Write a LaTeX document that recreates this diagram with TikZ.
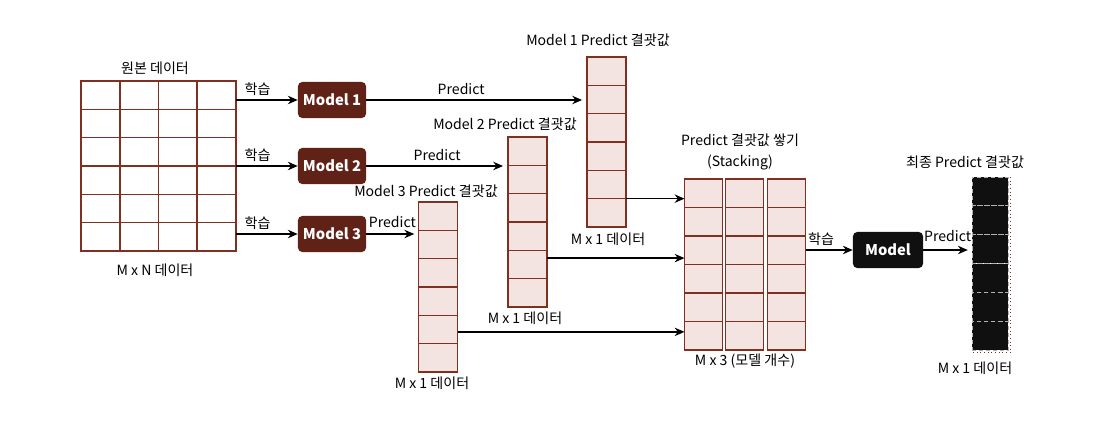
\documentclass[tikz,border=0pt]{standalone}
\usepackage{fontspec}
\setmainfont{Noto Sans CJK KR}
\usetikzlibrary{arrows.meta, positioning, calc}
\definecolor{cellbrd}{RGB}{128,48,32}
\definecolor{cellfill}{RGB}{243,228,226}
\definecolor{modelfill}{RGB}{96,34,22}
\definecolor{finalfill}{RGB}{16,16,16}
\tikzset{
  gridcell/.style={rectangle, fill=white, inner sep=0pt, outer sep=0pt,
    minimum width=0.969cm, minimum height=0.708cm},
  predcell/.style={gridcell, fill=cellfill, minimum width=0.975cm},
  stackcell/.style={gridcell, fill=cellfill, minimum width=0.95cm, minimum height=0.7125cm},
  cellline/.style={draw=cellbrd, line width=1.1pt},
  finalcell/.style={rectangle, fill=finalfill, draw=white!70!black, densely dashed,
    line width=0.6pt, inner sep=0pt, outer sep=0pt,
    minimum width=0.9cm, minimum height=0.72cm},
  model/.style={rectangle, fill=modelfill, text=white, rounded corners=3pt,
    minimum width=1.7cm, minimum height=0.9cm, inner sep=0pt,
    font=\fontsize{10.5}{12}\selectfont\bfseries},
  finalmodel/.style={model, fill=finalfill, minimum width=1.75cm},
  arrow/.style={-{Stealth[length=7pt, width=6pt]}, line width=1pt, color=black},
  lbl/.style={font=\fontsize{10}{12}\selectfont}
}
\begin{document}
\begin{tikzpicture}[x=0.025cm, y=-0.025cm, every node/.style={font=\fontsize{10}{12}\selectfont}]
  \useasboundingbox (0,0) rectangle (1094,428);

  % original data
  \foreach \r in {1,...,6}
    \foreach \c in {1,...,4}
      \node[gridcell] (g-\r-\c) at ({81+(\c-0.5)*38.75},{81+(\r-0.5)*28.33}) {};
  \foreach \r in {1,...,6}
    \foreach \c in {1,...,4}
      \draw[cellline] (g-\r-\c.south west) rectangle (g-\r-\c.north east);
  \node[lbl] (gtitle) at (155,68) {원본 데이터};
  \node[lbl] (gsize) at (155,270) {M x N 데이터};

  % models
  \node[model] (m1) at (332,100) {Model 1};
  \node[model] (m2) at (332,166) {Model 2};
  \node[model] (m3) at (332,234) {Model 3};

  % predict columns
  \foreach \k/\x/\y in {1/606.5/57, 2/527.5/137, 3/438/202}
    \foreach \r in {1,...,6}
      \node[predcell] (c\k-\r) at (\x,{\y+(\r-0.5)*28.33}) {};
  \foreach \k in {1,2,3}
    \foreach \r in {1,...,6}
      \draw[cellline] (c\k-\r.south west) rectangle (c\k-\r.north east);
  \node[lbl] (c1title) at (598,40) {Model 1 Predict 결괏값};
  \node[lbl] (c1size) at (608,239) {M x 1 데이터};
  \node[lbl] (c2title) at (505,124) {Model 2 Predict 결괏값};
  \node[lbl] (c2size) at (525,318) {M x 1 데이터};
  \node[lbl] (c3title) at (426,191) {Model 3 Predict 결괏값};
  \node[lbl] (c3size) at (432,383) {M x 1 데이터};

  % stacked
  \foreach \k/\x in {1/703.5, 2/744.5, 3/786.5}
    \foreach \r in {1,...,6}
      \node[stackcell] (s\k-\r) at (\x,{179+(\r-0.5)*28.5}) {};
  \foreach \k in {1,2,3}
    \foreach \r in {1,...,6}
      \draw[cellline] (s\k-\r.south west) rectangle (s\k-\r.north east);
  \node[lbl, align=center, font=\fontsize{10}{15.5}\selectfont] (stitle) at (740,152)
    {Predict 결괏값 쌓기\\(Stacking)};
  \node[lbl] (ssize) at (745,361) {M x 3 (모델 개수)};

  % final model and result
  \node[finalmodel] (m) at (888,250) {Model};
  \foreach \r in {1,...,6}
    \node[finalcell] (f-\r) at (990,{177+(\r-0.5)*28.83}) {};
  \draw[dotted, cellbrd, line width=0.6pt] ([xshift=2pt]f-1.north east)
    -- ([xshift=2pt, yshift=-1.5pt]f-6.south east) -- ([yshift=-1.5pt]f-6.south west);
  \node[lbl] (ftitle) at (965,162) {최종 Predict 결괏값};
  \node[lbl] (fsize) at (975,368) {M x 1 데이터};

  % training arrows
  \draw[arrow] (m1.west -| g-1-4.east) -- node[pos=0.35, above=-1pt] {학습} (m1);
  \draw[arrow] (m2.west -| g-1-4.east) -- node[pos=0.35, above=-1pt] {학습} (m2);
  \draw[arrow] (m3.west -| g-1-4.east) -- node[pos=0.35, above=-1pt] {학습} (m3);

  % predict arrows
  \draw[arrow, shorten >=3.5pt] (m1) -- node[pos=0.43, above] {Predict} (m1 -| c1-1.west);
  \draw[arrow, shorten >=3.5pt] (m2) -- node[midway, above] {Predict} (m2 -| c2-1.west);
  \draw[arrow, shorten >=3pt] (m3) -- node[midway, above=1pt] {Predict} (m3 -| c3-1.west);

  % into stacking
  \draw[arrow] (c1-5.south east) -- (c1-5.south east -| s1-1.west);
  \draw[arrow] ([yshift=0.16cm]c2-5.east) -- ([yshift=0.16cm]c2-5.east -| s1-1.west);
  \draw[arrow] ([yshift=-0.06cm]c3-5.east) -- ([yshift=-0.06cm]c3-5.east -| s1-1.west);

  % final stage
  \draw[arrow] (s3-1.east |- m.west) -- node[pos=0.33, above=-1pt] {학습} (m);
  \draw[arrow, shorten >=3pt] (m) -- node[midway, above=2pt] {Predict} (m -| f-1.west);
\end{tikzpicture}
\end{document}
